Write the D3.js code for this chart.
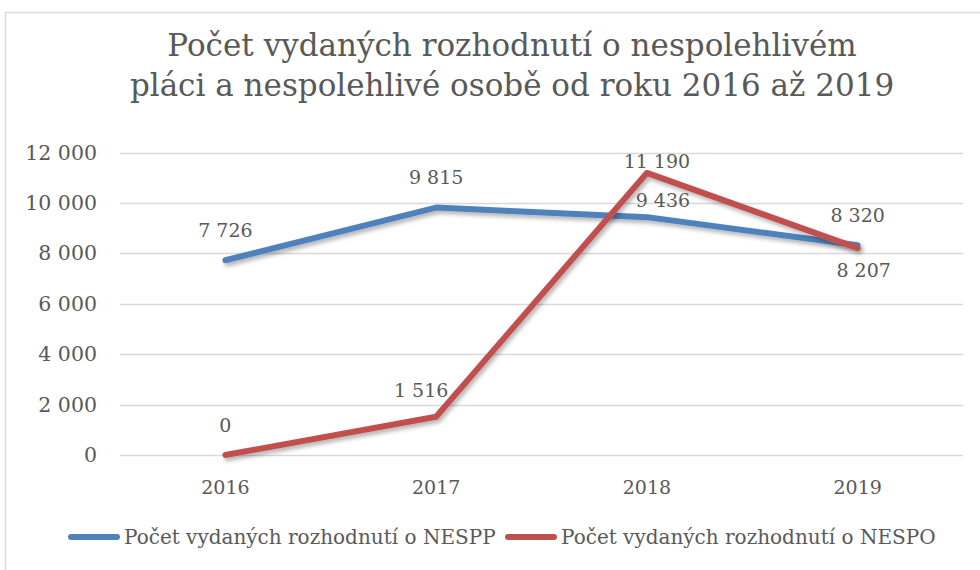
<!DOCTYPE html>
<html>
<head>
<meta charset="utf-8">
<style>
body { margin: 0; background: #fff; }
svg { display: block; font-family: "DejaVu Serif", serif; }
text { fill: #595959; }
</style>
</head>
<body>
<svg id="chart" width="980" height="570"></svg>
<script src="https://cdnjs.cloudflare.com/ajax/libs/d3/7.8.5/d3.min.js"></script>
<script>
// data
var years = ["2016", "2017", "2018", "2019"];
var nesppValues = [7726, 9815, 9436, 8320];
var nespoValues = [0, 1516, 11190, 8207];
var seriesNames = ["Počet vydaných rozhodnutí o NESPP", "Počet vydaných rozhodnutí o NESPO"];
var yTicks = [0, 2000, 4000, 6000, 8000, 10000, 12000];
var titleLines = ["Počet vydaných rozhodnutí o nespolehlivém", "pláci a nespolehlivé osobě od roku 2016 až 2019"];

var colors = ["#4f81bd", "#c0504d"];
var fmt = function(v) { return d3.format(",")(v).replace(/,/g, " "); };

var svg = d3.select("#chart");
var defs = svg.append("defs");
var f = defs.append("filter").attr("id", "shadow")
    .attr("x", "-10%").attr("y", "-10%").attr("width", "130%").attr("height", "130%");
f.append("feDropShadow").attr("dx", 2).attr("dy", 3).attr("stdDeviation", 2)
    .attr("flood-color", "#000").attr("flood-opacity", 0.3);

// chart frame (only top and left visible in the picture)
svg.append("path")
    .attr("d", "M5.5,580V12.5H990")
    .attr("fill", "none").attr("stroke", "#d9d9d9").attr("stroke-width", 1.5);

// title
svg.append("g").selectAll("text")
    .data(titleLines).enter().append("text")
    .attr("x", 512).attr("y", function(d, i) { return 56 + i * 40; })
    .attr("text-anchor", "middle")
    .style("font-size", "31px")
    .text(function(d) { return d; });

var x = d3.scaleBand().domain(years).range([120, 963]);
var y = d3.scaleLinear().domain([0, 12000]).range([455, 152.5]);
var cx = function(d) { return x(d) + x.bandwidth() / 2; };

// grid
svg.append("g").selectAll("line")
    .data(yTicks).enter().append("line")
    .attr("x1", 120).attr("x2", 963)
    .attr("y1", function(d) { return Math.round(y(d)) + 0.5; })
    .attr("y2", function(d) { return Math.round(y(d)) + 0.5; })
    .attr("stroke", "#d9d9d9").attr("stroke-width", 1.5);

// y axis labels
var yAxis = d3.axisLeft(y).tickValues(yTicks).tickFormat(fmt).tickSize(0).tickPadding(0);
var gy = svg.append("g").attr("transform", "translate(97,0)").call(yAxis)
    .attr("font-family", null).attr("font-size", null);
gy.select(".domain").remove();
gy.selectAll("text").style("font-size", "20.5px").attr("fill", "#595959");

// x axis labels
var xAxis = d3.axisBottom(x).tickSize(0).tickPadding(0);
var gx = svg.append("g").attr("transform", "translate(0,480)").call(xAxis)
    .attr("font-family", null).attr("font-size", null);
gx.select(".domain").remove();
gx.selectAll("text").style("font-size", "19px").attr("fill", "#595959").attr("dy", "0.75em");

var series = [nesppValues, nespoValues];
var line = d3.line()
    .x(function(d, i) { return cx(years[i]); })
    .y(function(d) { return y(d); });

series.forEach(function(vals, s) {
    svg.append("path")
        .attr("d", line(vals))
        .attr("fill", "none")
        .attr("stroke", colors[s])
        .attr("stroke-width", 6)
        .attr("stroke-linejoin", "round")
        .attr("stroke-linecap", "round")
        .attr("filter", "url(#shadow)");
});

// data labels, nudged like in the original
var labelShift = [
    [[0, -23], [0, -24], [16, -10], [0, -23]],
    [[0, -23], [-15, -20], [10, -5], [6, 29]]
];
series.forEach(function(vals, s) {
    svg.append("g").selectAll("text")
        .data(vals).enter().append("text")
        .attr("x", function(d, i) { return cx(years[i]) + labelShift[s][i][0]; })
        .attr("y", function(d, i) { return y(d) + labelShift[s][i][1]; })
        .attr("text-anchor", "middle")
        .style("font-size", "19px")
        .text(fmt);
});

// legend
var legendX = [68, 505];
var lg = svg.append("g");
seriesNames.forEach(function(name, s) {
    lg.append("line")
        .attr("x1", legendX[s] + 3).attr("x2", legendX[s] + 49)
        .attr("y1", 537).attr("y2", 537)
        .attr("stroke", colors[s]).attr("stroke-width", 6)
        .attr("stroke-linecap", "round");
    lg.append("text")
        .attr("x", legendX[s] + 56).attr("y", 544)
        .style("font-size", "20px")
        .text(name);
});
</script>
</body>
</html>
